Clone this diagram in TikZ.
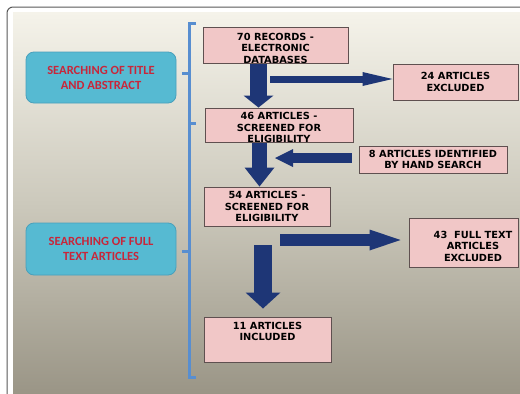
\documentclass[tikz,border=0pt]{standalone}
\usepackage{fontspec}
\setmainfont{DejaVu Sans}
\newfontfamily\stagefont{Carlito}
\usepackage{tikz}
\usetikzlibrary{arrows.meta, positioning, calc}

\definecolor{panelTop}{RGB}{245,243,234}
\definecolor{panelMid}{RGB}{204,201,188}
\definecolor{panelBot}{RGB}{154,149,134}
\definecolor{stageFill}{RGB}{86,186,210}
\definecolor{stageEdge}{RGB}{72,160,188}
\definecolor{stageRed}{RGB}{200,38,58}
\definecolor{boxFill}{RGB}{241,199,199}
\definecolor{boxEdge}{RGB}{95,80,80}
\definecolor{flowBlue}{RGB}{30,54,118}
\definecolor{braceBlue}{RGB}{88,142,208}

\begin{document}
\begin{tikzpicture}[
  x=1pt, y=-1pt,
  stage/.style={draw=stageEdge, fill=stageFill, line width=0.8pt, rounded corners=8pt,
    minimum width=150, minimum height=51, align=center, text=stageRed,
    font=\stagefont\bfseries\fontsize{12.5}{15}\selectfont},
  box/.style={draw=boxEdge, fill=boxFill, line width=1pt, inner sep=0pt, align=center,
    font=\bfseries\fontsize{9.8}{11.5}\selectfont},
  boxtext/.style={inner sep=0pt, align=center, font=\bfseries\fontsize{9.8}{11.5}\selectfont},
  flow/.style n args={3}{draw=flowBlue, line width=#1,
    -{Triangle[length=#2, width=#3, line width=0pt]}},
  bracket/.style={draw=braceBlue, line width=3pt}
]

\useasboundingbox (0,0) rectangle (520,394);
\clip (0,0) rectangle (520,394);

% Background panel
\fill[white] (0,0) rectangle (520,394);
\shade[top color=panelTop, bottom color=panelBot, middle color=panelMid] (13,12) rectangle (520,394);
\draw[gray!70!black, line width=1pt, rounded corners=6pt] (7,7) rectangle (530,404);

% Stages
\node[stage] (titlestage) at (101,77.5) {SEARCHING OF TITLE\\AND ABSTRACT};
\node[stage, minimum height=52] (fullstage) at (101,249) {SEARCHING OF FULL\\TEXT ARTICLES};

\draw[bracket] (196,23) -- (189,23) -- (189,377) -- (196,377);
\draw[bracket] (189,73) -- (182,73);
\draw[bracket] (189,123) -- (196,123);
\draw[bracket] (189,251) -- (182,251);

% Flow boxes
\node[box, minimum width=145, minimum height=36,
  label={[boxtext, yshift=-3]center:70 RECORDS -\\ELECTRONIC\\DATABASES}] (records) at (275.5,45) {};
\node[box, minimum width=125, minimum height=36] (excl1) at (455.5,82) {24 ARTICLES\\EXCLUDED};
\node[box, minimum width=148, minimum height=34,
  label={[boxtext, yshift=-2.5]center:46 ARTICLES -\\SCREENED FOR\\ELIGIBILITY}] (screen1) at (279,125) {};
\node[box, minimum width=148, minimum height=27] (hand) at (433,159.5) {8 ARTICLES IDENTIFIED\\BY HAND SEARCH};
\node[box, minimum width=126, minimum height=39] (screen2) at (267,206.5) {54 ARTICLES -\\SCREENED FOR\\ELIGIBILITY};
\node[box, minimum width=109, minimum height=49,
  label={[boxtext, xshift=9.5, yshift=-3.5]center:43\ \ FULL TEXT\\ARTICLES\\EXCLUDED}] (excl2) at (463.5,242.5) {};
\node[box, minimum width=127, minimum height=45,
  label={[boxtext, yshift=8]center:11 ARTICLES\\INCLUDED}] (incl) at (267.5,339.5) {};

% Block arrows
\coordinate (colA) at (258.5,0);
\coordinate (colB) at (259.5,0);
\coordinate (exclStart) at (270,79);
\coordinate (handTip) at (275,158);
\coordinate (fullStart) at (280,240);
\coordinate (inclStart) at (263,245);

\draw[flow={17pt}{12pt}{30pt}] (records.south -| colA) -- (screen1.north -| colA);
\draw[flow={7pt}{30pt}{14pt}] (exclStart) -- (exclStart -| excl1.west);
\draw[flow={15pt}{19pt}{30pt}] (screen1.south -| colB) -- (screen2.north -| colB);
\draw[flow={10pt}{18pt}{18pt}, shorten <=7pt] (hand.west |- handTip) -- (handTip);
\draw[flow={12pt}{31pt}{21pt}, shorten >=8pt] (fullStart) -- (fullStart -| excl2.west);
\draw[flow={18pt}{16pt}{35pt}, shorten >=8pt] (inclStart) -- (inclStart |- incl.north);

\end{tikzpicture}
\end{document}
